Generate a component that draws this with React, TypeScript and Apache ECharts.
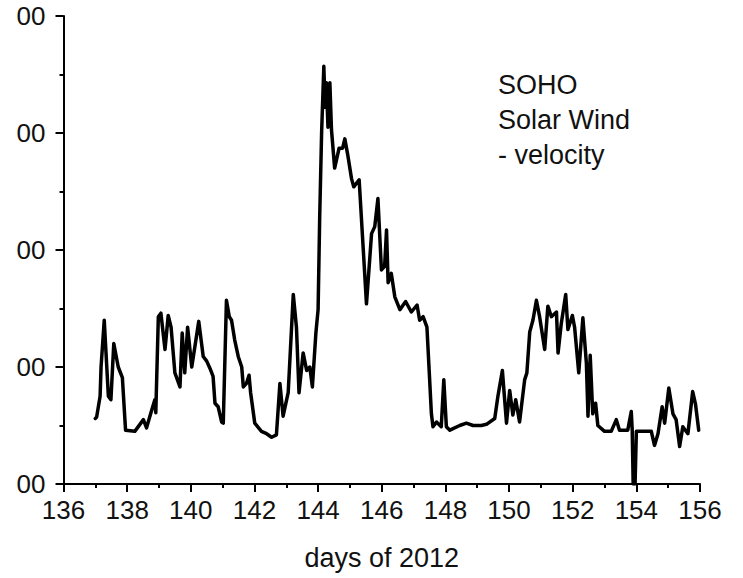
import { useEffect, useRef } from "react";
import * as echarts from "echarts";

// Day of year 2012 (x) and solar wind speed (y)
const days = [
  137.0, 137.04, 137.15, 137.18, 137.28, 137.41, 137.49, 137.58, 137.72, 137.85,
  137.95, 138.24, 138.51, 138.61, 138.77, 138.87, 138.9, 138.98, 139.06, 139.19,
  139.29, 139.38, 139.5, 139.66, 139.73, 139.81, 139.9, 140.03, 140.25, 140.39,
  140.5, 140.6, 140.7, 140.76, 140.86, 140.97, 141.02, 141.12, 141.21, 141.28,
  141.38, 141.49, 141.6, 141.65, 141.75, 141.83, 141.88, 142.01, 142.22, 142.38,
  142.54, 142.69, 142.8, 142.9, 143.06, 143.22, 143.32, 143.4, 143.53, 143.64,
  143.74, 143.82, 143.93, 144.0, 144.05, 144.11, 144.18, 144.22, 144.26, 144.31,
  144.37, 144.42, 144.52, 144.66, 144.77, 144.84, 144.94, 145.05, 145.12, 145.29,
  145.52, 145.68, 145.78, 145.88, 145.99, 146.09, 146.15, 146.2, 146.3, 146.41,
  146.57, 146.75, 146.93, 147.11, 147.19, 147.3, 147.42, 147.49, 147.56, 147.61,
  147.72, 147.87, 147.95, 148.03, 148.14, 148.45, 148.66, 148.87, 149.13, 149.29,
  149.55, 149.65, 149.79, 149.92, 150.02, 150.12, 150.21, 150.33, 150.49, 150.56,
  150.65, 150.75, 150.86, 150.96, 151.12, 151.22, 151.33, 151.49, 151.54, 151.64,
  151.78, 151.85, 151.99, 152.06, 152.19, 152.32, 152.43, 152.48, 152.55, 152.63,
  152.72, 152.79, 153.0, 153.21, 153.37, 153.47, 153.73, 153.84, 153.87, 153.9,
  153.96, 154.0, 154.47, 154.57, 154.68, 154.81, 154.89, 155.02, 155.15, 155.25,
  155.36, 155.46, 155.62, 155.77, 155.86, 155.96,
];

const velocity = [
  356, 357, 375, 400, 440, 375, 372, 420, 400, 391,
  346, 345, 355, 348, 363, 372, 361, 443, 446, 415,
  444, 434, 395, 383, 429, 395, 434, 400, 439, 409,
  405, 399, 392, 369, 366, 353, 352, 457, 443, 440,
  423, 409, 400, 383, 386, 393, 378, 352, 345, 343,
  340, 342, 386, 358, 378, 462, 434, 378, 412, 397,
  400, 383, 429, 449, 528, 600, 657, 622, 643, 605,
  643, 603, 570, 587, 587, 595, 580, 561, 554, 560,
  454, 514, 520, 544, 483, 486, 517, 472, 480, 460,
  449, 456, 447, 453, 440, 443, 434, 397, 360, 349,
  353, 349, 389, 349, 346, 350, 352, 350, 350, 351,
  356, 375, 397, 352, 380, 359, 372, 353, 389, 395,
  430, 440, 457, 443, 415, 452, 443, 447, 412, 437,
  462, 432, 444, 434, 395, 442, 403, 358, 410, 360,
  369, 350, 345, 345, 355, 346, 346, 362, 346, 300,
  300, 345, 345, 333, 343, 366, 352, 382, 360, 355,
  332, 349, 343, 379, 368, 346,
];

const xRange = [136, 156];
const yRange = [300, 700];
const annotationLines = ["SOHO", "Solar Wind", "- velocity"];
const xAxisTitle = "days of 2012";

const FONT = "'Liberation Sans', Arial, sans-serif";

export default function App() {
  const ref = useRef<HTMLDivElement>(null);

  useEffect(() => {
    const chart = echarts.init(ref.current!, null, { renderer: "svg" });
    chart.setOption({
      animation: false,
      backgroundColor: "#ffffff",
      grid: {
        left: 63.5,
        right: 43,
        top: 16,
        bottom: 94,
        containLabel: false,
        outerBoundsMode: "none",
      },
      xAxis: {
        type: "value",
        min: xRange[0],
        max: xRange[1],
        interval: 2,
        name: xAxisTitle,
        nameLocation: "middle",
        nameGap: 60,
        nameTextStyle: { fontSize: 27, fontFamily: FONT, color: "#111" },
        axisLine: { show: true, onZero: false, lineStyle: { color: "#000", width: 2 } },
        axisTick: { show: true, inside: false, length: 8, lineStyle: { color: "#000", width: 2 } },
        minorTick: { show: true, splitNumber: 2, length: 4, lineStyle: { color: "#000", width: 2 } },
        axisLabel: { fontSize: 26, fontFamily: FONT, color: "#111", margin: 13 },
        splitLine: { show: false },
        minorSplitLine: { show: false },
      },
      yAxis: {
        type: "value",
        min: yRange[0],
        max: yRange[1],
        interval: 100,
        axisLine: { show: true, onZero: false, lineStyle: { color: "#000", width: 2 } },
        axisTick: { show: true, inside: false, length: 8, lineStyle: { color: "#000", width: 2 } },
        minorTick: { show: true, splitNumber: 2, length: 4, lineStyle: { color: "#000", width: 2 } },
        axisLabel: {
          fontSize: 26,
          fontFamily: FONT,
          color: "#111",
          margin: 18,
          formatter: (v: number) => String(v).slice(-2),
        },
        splitLine: { show: false },
        minorSplitLine: { show: false },
      },
      graphic: annotationLines.map((t, i) => ({
        type: "text",
        left: 498,
        top: 85 + i * 35 - 14,
        style: { text: t, fontSize: 27, fontFamily: FONT, fill: "#111" },
      })),
      series: [
        {
          type: "line",
          data: days.map((d, i) => [d, velocity[i]]),
          showSymbol: false,
          symbol: "none",
          lineStyle: { color: "#000", width: 3.5, join: "round", cap: "round" },
        },
      ],
    });
    return () => chart.dispose();
  }, []);

  return (
    <div
      ref={ref}
      style={{ position: "absolute", left: 0, top: 0, width: 743, height: 578, background: "#fff" }}
    />
  );
}
